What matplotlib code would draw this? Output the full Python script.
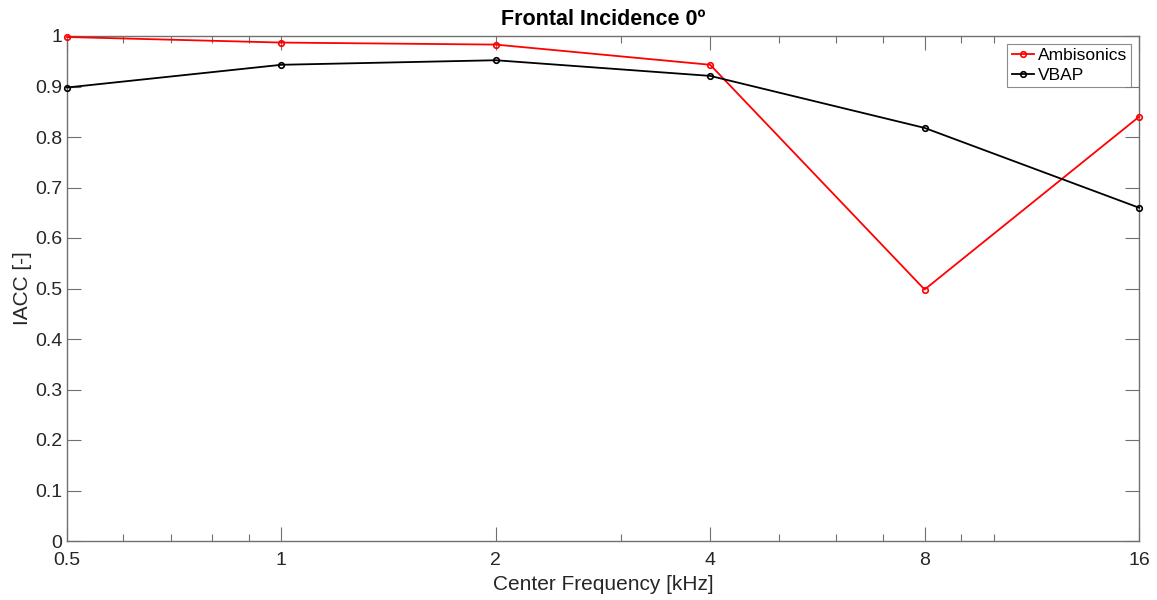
import matplotlib
matplotlib.use('Agg')
import matplotlib.pyplot as plt
from matplotlib.ticker import FixedLocator, NullFormatter

plt.rcParams['font.family'] = ['Liberation Sans', 'DejaVu Sans']

freqs = [0.5, 1, 2, 4, 8, 16]
freq_labels = ['0.5', '1', '2', '4', '8', '16']
minor_freqs = [0.6, 0.7, 0.8, 0.9, 3, 5, 6, 7, 9, 10]
ambisonics = [0.998, 0.987, 0.983, 0.943, 0.498, 0.840]
vbap = [0.898, 0.943, 0.952, 0.921, 0.818, 0.660]
y_ticks = [0, 0.1, 0.2, 0.3, 0.4, 0.5, 0.6, 0.7, 0.8, 0.9, 1]
y_labels = ['0', '0.1', '0.2', '0.3', '0.4', '0.5', '0.6', '0.7', '0.8', '0.9', '1']

axis_col = '#707070'
text_col = '#262626'

fig = plt.figure(figsize=(11.57, 6.0), dpi=100)
ax = fig.add_axes([67 / 1157, 1 - 541 / 600, (1139 - 67) / 1157, (541 - 36) / 600])

ax.plot(freqs, ambisonics, '-o', color='#ff0000', lw=1.3, ms=4, mfc='none', mew=1.2, label='Ambisonics', clip_on=False, zorder=3)
ax.plot(freqs, vbap, '-o', color='#000000', lw=1.3, ms=4, mfc='none', mew=1.2, label='VBAP', clip_on=False, zorder=3)

ax.set_xscale('log')
ax.set_xlim(0.5, 16)
ax.set_ylim(0, 1)
ax.xaxis.set_major_locator(FixedLocator(freqs))
ax.set_xticklabels(freq_labels)
ax.xaxis.set_minor_locator(FixedLocator(minor_freqs))
ax.xaxis.set_minor_formatter(NullFormatter())
ax.set_yticks(y_ticks)
ax.set_yticklabels(y_labels)

ax.tick_params(which='both', direction='in', top=True, right=True, colors=axis_col, labelcolor=text_col, labelsize=14)
ax.tick_params(which='major', length=10, width=0.8)
ax.tick_params(which='minor', length=5, width=0.8)
ax.tick_params(axis='x', pad=8)
for s in ax.spines.values():
    s.set_color(axis_col)
    s.set_linewidth(1.0)

ax.set_xlabel('Center Frequency [kHz]', fontsize=15, color=text_col, labelpad=4)
ax.set_ylabel('IACC [-]', fontsize=15, color=text_col, labelpad=2)
ax.set_title('Frontal Incidence 0º', fontsize=15.5, fontweight='bold', color='black', pad=8)

leg = ax.legend(loc='upper right', fontsize=12.5, frameon=True, fancybox=False, borderpad=0.25,
                handlelength=1.3, handletextpad=0.2, labelspacing=0.25, borderaxespad=0.45)
leg.get_frame().set_edgecolor(axis_col)
leg.get_frame().set_linewidth(0.8)

fig.savefig('out.png', dpi=100)
